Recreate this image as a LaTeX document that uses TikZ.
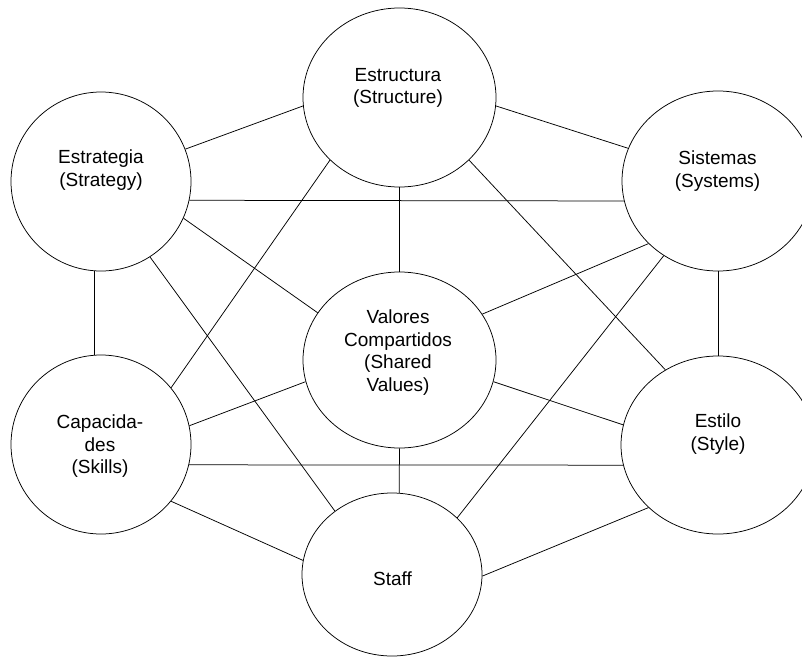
\documentclass[tikz,border=0pt]{standalone}
\usepackage{fontspec}
\setmainfont{Liberation Sans}
\usetikzlibrary{shapes.geometric}

\begin{document}
\begin{tikzpicture}[x=1pt, y=-1pt,
    ring/.style={draw, ellipse, inner sep=0pt, line width=0.75pt},
    lbl/.style={anchor=north, inner sep=0pt, align=center, font=\fontsize{19}{22.5}\selectfont}]
\useasboundingbox (0,0) rectangle (802,656);
% Circles
\node[ring, minimum width=180pt, minimum height=179pt] (strat) at (101,181.5) {};
\node[ring, minimum width=193pt, minimum height=179pt] (estr) at (399.5,97.5) {};
\node[ring, minimum width=192pt, minimum height=180pt] (sist) at (718,181) {};
\node[ring, minimum width=193pt, minimum height=176pt] (val) at (399.5,360) {};
\node[ring, minimum width=180pt, minimum height=179pt] (cap) at (101,444.5) {};
\node[ring, minimum width=194pt, minimum height=178pt] (estilo) at (718,445) {};
\node[ring, minimum width=180pt, minimum height=163pt] (staff) at (392,574.5) {};
% Labels
\node[lbl] (strat-t) at (101,150) {Estrategia\\(Strategy)};
\node[lbl] (estr-t) at (398,68) {Estructura\\(Structure)};
\node[lbl] (sist-t) at (717.5,151) {Sistemas\\(Systems)};
\node[lbl] (val-t) at (398,310) {Valores\\Compartidos\\(Shared\\Values)};
\node[lbl] (cap-t) at (100,415) {Capacida-\\des\\(Skills)};
\node[lbl] (estilo-t) at (718,414) {Estilo\\(Style)};
\node[lbl] (staff-t) at (392.5,572) {Staff};
% Connections
\foreach \a/\b in {strat.21/estr.185, estr.355/sist.160.7, strat.-12.8/sist.192.2,
    estr.-90/val.90, strat.-24.8/val.150.4, strat.-57/staff.132.1,
    estr.222.9/cap.39.4, strat.-94/cap.94, estr.-42.4/estilo.125.5,
    sist.222.4/val.29.4, sist.234.5/staff.41.4, sist.-90/estilo.90,
    val.193.4/cap.12.4, val.-13.4/estilo.168.4, cap.-13.4/estilo.192.2,
    val.-90/staff.85, cap.-39.4/staff.171.5, estilo.222/staff.-1}
    \draw[line width=0.75pt] (\a) -- (\b);
\end{tikzpicture}
\end{document}
